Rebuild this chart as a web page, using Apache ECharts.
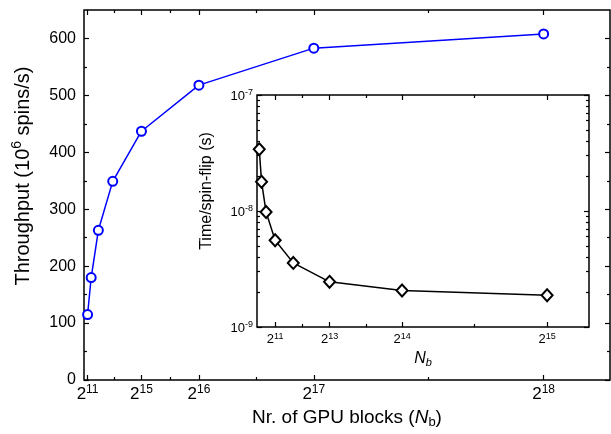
<!DOCTYPE html>
<html>
<head>
<meta charset="utf-8">
<script src="https://cdn.jsdelivr.net/npm/echarts@6/dist/echarts.min.js"></script>
<style>
  html, body { margin: 0; padding: 0; background: #fff; }
  #chart { width: 611px; height: 434px; }
</style>
</head>
<body>
<div id="chart"></div>
<script>
// main plot: throughput vs number of GPU blocks
var blocks = [2048, 4096, 8192, 16384, 32768, 65536, 131072, 262144];
var throughput = [115, 180, 263, 349, 437, 518, 583, 608];
// inset: time per spin flip
var insetBlocks = [256, 512, 1024, 2048, 4096, 8192, 16384, 32768];
var timePerFlip = [3.4e-8, 1.79e-8, 9.8e-9, 5.6e-9, 3.57e-9, 2.45e-9, 2.06e-9, 1.88e-9];

// ticks
var mainXTicks = [2048, 32768, 65536, 131072, 262144];
var mainXMinor = [17408, 49152, 98304, 196608];
var mainYTicks = [0, 100, 200, 300, 400, 500, 600];
var mainYMinor = [50, 150, 250, 350, 450, 550];
var insetXTicks = [2048, 8192, 16384, 32768];
var insetXMinor = [5120, 12288, 24576];
var insetYDecades = [-9, -8, -7];
var insetYMinor = [];
for (let d of [-9, -8]) {
    for (let k = 2; k <= 9; k++) insetYMinor.push(d + Math.log10(k));
}

var FONT = '"Liberation Sans", Arial, sans-serif';

function supRich(size) {
    return {
        b: { fontSize: size, fontFamily: FONT, color: '#000', verticalAlign: 'bottom', lineHeight: size + 2 },
        s: { fontSize: Math.round(size * 0.7), fontFamily: FONT, color: '#000', verticalAlign: 'bottom',
             lineHeight: Math.round(size * 0.7) + 2, padding: [0, 0, Math.round(size * 0.42), 0] }
    };
}

// one axis of the frame; only those with labels get text
function frameAxis(grid, pos, min, max, ticks, len, label) {
    var a = {
        type: 'value', gridIndex: grid, position: pos, min: min, max: max,
        axisLine: { show: false, onZero: false },
        splitLine: { show: false },
        axisTick: { show: true, inside: true, length: len, customValues: ticks,
                    lineStyle: { color: '#000', width: 1.2 } },
        axisLabel: { show: false }
    };
    if (label) {
        a.axisLabel = Object.assign({ show: true, customValues: ticks }, label);
    }
    return a;
}

var pow2Label = function (size, margin) {
    return {
        margin: margin,
        formatter: function (v) { return '{b|2}{s|' + Math.round(Math.log2(v)) + '}'; },
        rich: supRich(size)
    };
};

var chart = echarts.init(document.getElementById('chart'));

var option = {
    animation: false,
    backgroundColor: '#fff',
    grid: [
        { left: 84, top: 10, width: 526, height: 370, show: true, borderColor: '#000', borderWidth: 1.5 },
        { left: 257, top: 95, width: 332, height: 232, show: true, borderColor: '#000', borderWidth: 1.5,
          backgroundColor: '#fff' }
    ],
    xAxis: [
        Object.assign(frameAxis(0, 'bottom', 0, 300000, mainXTicks, 5, pow2Label(17, 4)), {
            name: '{t|Nr. of GPU blocks (}{i|N}{sub|b}{t|)}',
            nameLocation: 'middle', nameGap: 14,
            nameTextStyle: {
                rich: {
                    t: { fontSize: 19, fontFamily: FONT, color: '#000', verticalAlign: 'top', lineHeight: 22 },
                    i: { fontSize: 19, fontFamily: FONT, fontStyle: 'italic', color: '#000', verticalAlign: 'top', lineHeight: 22 },
                    sub: { fontSize: 13, fontFamily: FONT, color: '#000', verticalAlign: 'top', lineHeight: 15, padding: [8, 0, 0, 0] }
                }
            }
        }),
        frameAxis(0, 'bottom', 0, 300000, mainXMinor, 3),
        frameAxis(0, 'top', 0, 300000, mainXTicks, 5),
        frameAxis(0, 'top', 0, 300000, mainXMinor, 3),
        Object.assign(frameAxis(1, 'bottom', 0, 37500, insetXTicks, 5, pow2Label(13, 4)), {
            name: '{i|N}{sub|b}',
            nameLocation: 'middle', nameGap: 21,
            nameTextStyle: {
                rich: {
                    i: { fontSize: 16, fontFamily: FONT, fontStyle: 'italic', color: '#000', verticalAlign: 'top', lineHeight: 18 },
                    sub: { fontSize: 11, fontFamily: FONT, fontStyle: 'italic', color: '#000', verticalAlign: 'top', lineHeight: 13, padding: [7, 0, 0, 0] }
                }
            }
        }),
        frameAxis(1, 'bottom', 0, 37500, insetXMinor, 3),
        frameAxis(1, 'top', 0, 37500, insetXTicks, 5),
        frameAxis(1, 'top', 0, 37500, insetXMinor, 3)
    ],
    yAxis: [
        frameAxis(0, 'left', 0, 650, mainYTicks, 5, {
            margin: 8, fontSize: 16, fontFamily: FONT, color: '#000'
        }),
        frameAxis(0, 'left', 0, 650, mainYMinor, 3),
        frameAxis(0, 'right', 0, 650, mainYTicks, 5),
        frameAxis(0, 'right', 0, 650, mainYMinor, 3),
        {
            type: 'log', logBase: 10, gridIndex: 1, position: 'left', min: 1e-9, max: 1e-7,
            axisLine: { show: false, onZero: false },
            splitLine: { show: false },
            axisTick: { show: true, inside: true, length: 5, lineStyle: { color: '#000', width: 1.2 } },
            axisLabel: {
                margin: 4,
                formatter: function (v) { return '{b|10}{s|' + Math.round(Math.log10(v)) + '}'; },
                rich: supRich(13)
            }
        },
        frameAxis(1, 'left', -9, -7, insetYMinor, 3),
        frameAxis(1, 'right', -9, -7, insetYDecades, 5),
        frameAxis(1, 'right', -9, -7, insetYMinor, 3)
    ],
    graphic: [
        {
            type: 'text', x: 22, y: 176, rotation: Math.PI / 2,
            style: {
                text: '{t|Throughput (10}{s|6}{t| spins/s)}',
                align: 'center', verticalAlign: 'middle',
                rich: {
                    t: { fontSize: 20, fontFamily: FONT, fill: '#000', verticalAlign: 'bottom', lineHeight: 23 },
                    s: { fontSize: 14, fontFamily: FONT, fill: '#000', verticalAlign: 'bottom', lineHeight: 16, padding: [0, 0, 9, 0] }
                }
            }
        },
        {
            type: 'text', x: 207, y: 191, rotation: Math.PI / 2,
            style: {
                text: 'Time/spin-flip (s)',
                align: 'center', verticalAlign: 'middle',
                fontSize: 16, fontFamily: FONT, fill: '#000'
            }
        }
    ],
    series: [
        {
            type: 'line', xAxisIndex: 0, yAxisIndex: 0,
            data: blocks.map((x, i) => [x, throughput[i]]),
            symbol: 'emptyCircle', symbolSize: 9,
            color: '#0000ff',
            lineStyle: { color: '#0000ff', width: 1.5 },
            itemStyle: { borderWidth: 1.5 }
        },
        {
            type: 'line', xAxisIndex: 4, yAxisIndex: 4,
            data: insetBlocks.map((x, i) => [x, timePerFlip[i]]),
            symbol: 'emptyDiamond', symbolSize: [11, 12],
            color: '#000',
            lineStyle: { color: '#000', width: 1.5 },
            itemStyle: { borderWidth: 1.8 },
            z: 5
        }
    ]
};

chart.setOption(option);
</script>
</body>
</html>
